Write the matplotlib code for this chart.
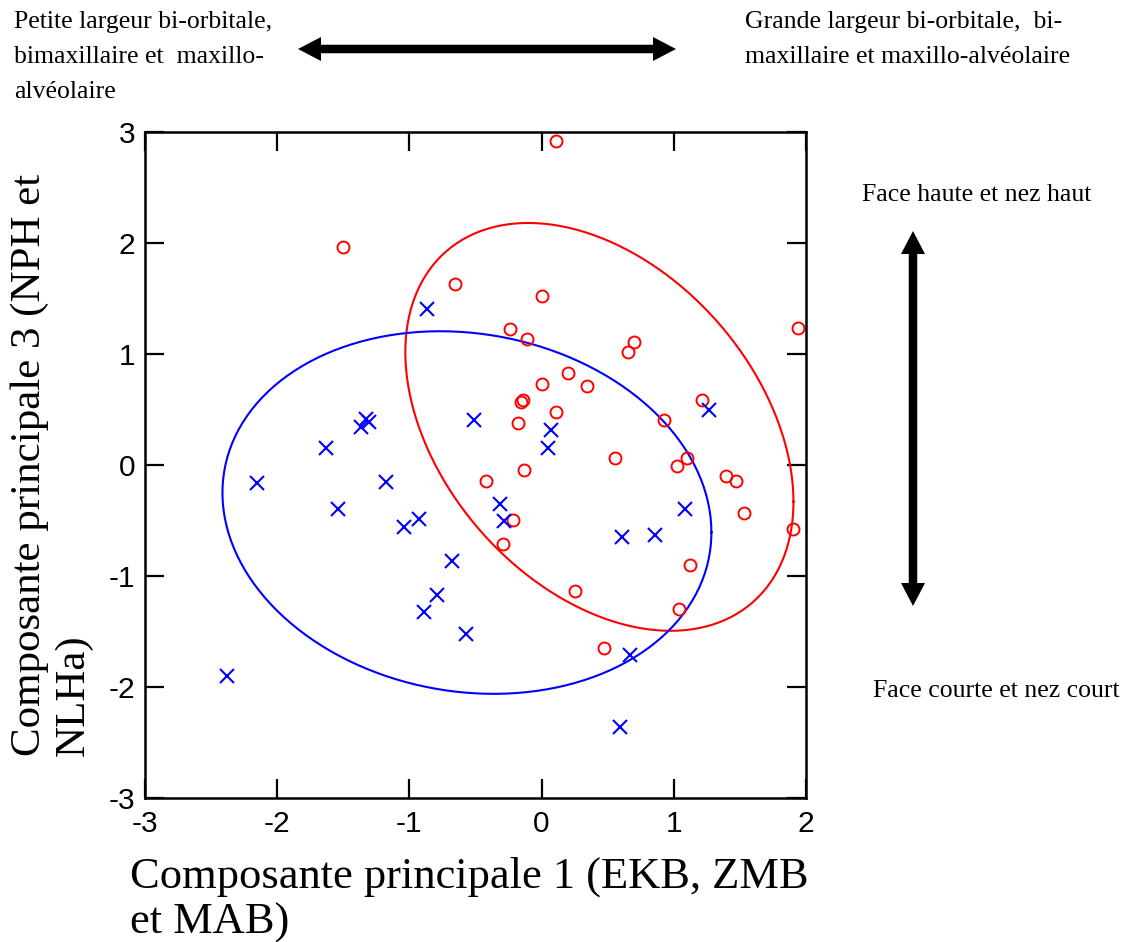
import numpy as np
import matplotlib
matplotlib.use("Agg")
from matplotlib import pyplot as plt
from matplotlib.patches import Polygon

plt.rcParams['axes.unicode_minus'] = False

# groupe 1 : cercles rouges
x_red = [0.109, -1.502, -0.655, 0.003, -0.24, -0.11, 0.70, 0.65, 1.94, 0.196,
         0.0, 0.343, -0.158, -0.138, -0.176, 0.109, 0.926, 1.21, -0.133, 0.555,
         1.098, 1.027, 1.392, 1.473, 1.531, 1.904, 1.12, 1.04, 0.47, 0.25,
         -0.29, -0.219, -0.42]
y_red = [2.92, 1.96, 1.63, 1.52, 1.22, 1.13, 1.11, 1.02, 1.23, 0.826,
         0.73, 0.71, 0.57, 0.585, 0.38, 0.477, 0.40, 0.58, -0.05, 0.06,
         0.06, -0.01, -0.10, -0.15, -0.43, -0.58, -0.90, -1.30, -1.65, -1.135,
         -0.71, -0.50, -0.144]

# groupe 2 : croix bleues
x_blue = [-0.869, -0.509, -1.366, -1.328, -1.303, -1.631, -2.155, -1.542, -1.177,
          -1.041, -0.927, -0.676, -0.794, -0.89, -0.57, -2.382, 0.068, 0.051,
          -0.315, -0.282, 0.611, 0.856, 1.085, 1.269, 0.669, 0.593]
y_blue = [1.40, 0.40, 0.345, 0.414, 0.39, 0.15, -0.165, -0.40, -0.153,
          -0.556, -0.49, -0.868, -1.17, -1.33, -1.525, -1.90, 0.315, 0.156,
          -0.35, -0.51, -0.65, -0.63, -0.40, 0.49, -1.71, -2.36]

# ellipses : centre et covariance
red_center = (0.437, 0.342)
red_cov = [[2.155, -0.99], [-0.99, 3.378]]
blue_center = (-0.565, -0.43)
blue_cov = [[3.42, -0.33], [-0.33, 2.67]]

ticks = [-3, -2, -1, 0, 1, 2, 3]


def ellipse_xy(center, cov, n=300):
    t = np.linspace(0, 2 * np.pi, n)
    L = np.linalg.cholesky(np.array(cov))
    pts = L @ np.vstack([np.cos(t), np.sin(t)])
    return pts[0] + center[0], pts[1] + center[1]


W, H = 1133, 942


def fpos(x, y):
    # pixels (depuis le haut) -> coordonnees figure
    return x / W, 1 - y / H


fig = plt.figure(figsize=(W / 100, H / 100), dpi=100)
ax = fig.add_axes([0.128, 0.1532, 0.5834, 0.7067])

ex, ey = ellipse_xy(red_center, red_cov)
ax.plot(ex, ey, color='red', lw=1.5)
ex, ey = ellipse_xy(blue_center, blue_cov)
ax.plot(ex, ey, color='blue', lw=1.5)

ax.plot(x_red, y_red, 'o', ls='none', ms=8.6, mfc='none', mec='red', mew=1.4)
ax.plot(x_blue, y_blue, 'x', ls='none', ms=10.5, mec='blue', mew=1.5)

ax.set_xlim(-3, 2)
ax.set_ylim(-3, 3)
ax.set_xticks(ticks[:6])
ax.set_yticks(ticks)
for s in ax.spines.values():
    s.set_linewidth(1.8)
ax.tick_params(direction='in', length=14, width=1.6, top=True, right=True,
               labelsize=21.5)
ax.tick_params(axis='x', pad=9)
ax.tick_params(axis='y', pad=7)
for lab in ax.get_xticklabels() + ax.get_yticklabels():
    lab.set_fontfamily('Liberation Sans')

serif = 'Liberation Serif'
fig.text(*fpos(130, 900), "Composante principale 1 (EKB, ZMB\net MAB)",
         family=serif, fontsize=32, ha='left', va='center', linespacing=1.17)
fig.text(*fpos(52, 465), "Composante principale 3 (NPH et\nNLHa)",
         family=serif, fontsize=31, rotation=90, ha='center', va='center',
         linespacing=1.18, multialignment='left')

fig.text(*fpos(14, 57), "Petite largeur bi-orbitale,\nbimaxillaire et  maxillo-\nalvéolaire",
         family=serif, fontsize=18.5, ha='left', va='center', linespacing=1.78)
fig.text(*fpos(745, 39.5), "Grande largeur bi-orbitale,  bi-\nmaxillaire et maxillo-alvéolaire",
         family=serif, fontsize=18.5, ha='left', va='center', linespacing=1.78)
fig.text(*fpos(862, 195), "Face haute et nez haut",
         family=serif, fontsize=18.5, ha='left', va='center')
fig.text(*fpos(873, 691), "Face courte et nez court",
         family=serif, fontsize=18.5, ha='left', va='center')


# fleche double, en pixels ; tete et corps d'un seul polygone
def double_arrow(x0, y0, x1, y1, shaft=8.5, head_w=24, head_l=23):
    p0 = np.array([x0, H - y0], float)
    p1 = np.array([x1, H - y1], float)
    d = (p1 - p0) / np.linalg.norm(p1 - p0)
    n = np.array([-d[1], d[0]])
    b0 = p0 + d * head_l
    b1 = p1 - d * head_l
    pts = [p0, b0 + n * head_w / 2, b0 + n * shaft / 2, b1 + n * shaft / 2,
           b1 + n * head_w / 2, p1, b1 - n * head_w / 2, b1 - n * shaft / 2,
           b0 - n * shaft / 2, b0 - n * head_w / 2]
    pts = np.array(pts) / 100
    fig.add_artist(Polygon(pts, closed=True, color='black', lw=0,
                           transform=fig.dpi_scale_trans))


double_arrow(298, 49, 676, 49)
double_arrow(913, 231, 913, 606)

plt.savefig("out.png", dpi=100)
